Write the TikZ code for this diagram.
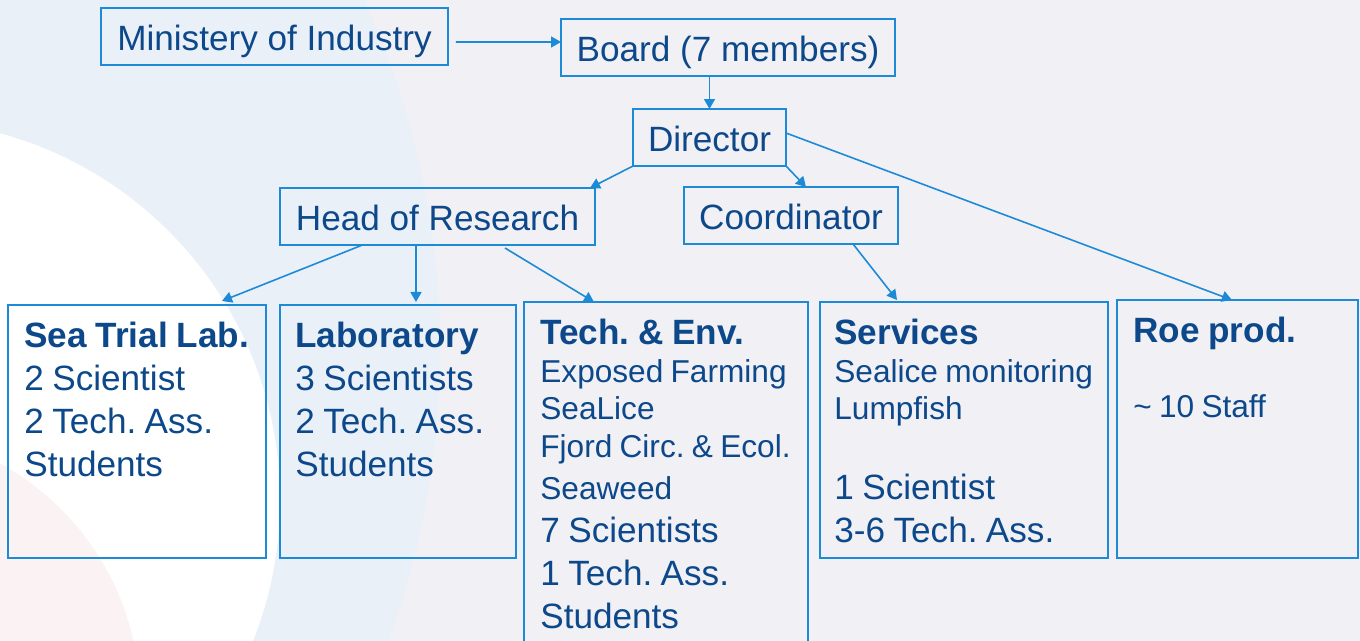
\documentclass[tikz,border=0pt]{standalone}
\usepackage{fontspec}
\setmainfont{Liberation Sans}
\usetikzlibrary{positioning, calc, arrows.meta}
\definecolor{boxblue}{RGB}{28,138,214}
\definecolor{txtblue}{RGB}{12,72,138}
\definecolor{bggray}{RGB}{240,240,245}
\definecolor{ringblue}{RGB}{233,240,248}
\definecolor{pinkish}{RGB}{251,242,244}
\tikzset{
  unit/.style={draw=boxblue, line width=1.1pt, outer sep=0pt, inner sep=0pt,
    text=txtblue, font=\fontsize{20}{24.4}\selectfont},
  top/.style={unit, minimum height=1.14cm, text height=0.6cm, text depth=0.04cm},
  txt/.style={anchor=north west, inner sep=0pt, text=txtblue, align=left,
    font=\fontsize{20}{24.4}\selectfont},
  link/.style={draw=boxblue, line width=0.9pt, -{Triangle[length=0.2cm,width=0.22cm]}}}
\newcommand\unithead[1]{{\fontsize{20}{24.4}\selectfont\bfseries\spaceskip=0.25em\relax #1\par}}
\newcommand\linebig[1]{{\fontsize{20}{24.4}\selectfont\spaceskip=0.24em\relax #1\par}}
\newcommand\linesmall[1]{{\fontsize{18}{21.3}\selectfont\spaceskip=0.23em\relax #1\par}}
\frenchspacing

\begin{document}
\begin{tikzpicture}[x=0.02cm, y=-0.02cm]
\useasboundingbox (0,0) rectangle (1360,641);
\clip (0,0) rectangle (1360,641);
% background
\fill[bggray] (0,0) rectangle (1360,641);
\fill[ringblue] (-400,350) circle (840);
\fill[white] (-100,500) circle (380);
\fill[pinkish] (-130,700) circle (270);

% top of the chart
\node[top, minimum width=6.94cm] (minis) at (274.5,36.5) {Ministery of Industry};
\node[top, minimum width=6.68cm] (board) at (728,47.5) {Board (7 members)};
\node[top, minimum width=3.06cm] (dir) at (709.5,137.5) {Director};
\node[top, minimum width=6.3cm] (head) at (437.5,216.5) {Head of Research};
\node[top, minimum width=4.28cm] (coord) at (791,215.5) {Coordinator};

% units
\node[unit, anchor=north west, minimum width=5.16cm, minimum height=5.06cm] (sea) at (8,305) {};
\node[unit, anchor=north west, minimum width=4.72cm, minimum height=5.06cm] (lab) at (280,305) {};
\node[unit, anchor=north west, minimum width=5.68cm, minimum height=7.2cm] (tech) at (524,302) {};
\node[unit, anchor=north west, minimum width=5.76cm, minimum height=5.12cm] (serv) at (820,302) {};
\node[unit, anchor=north west, minimum width=4.82cm, minimum height=5.16cm] (roe) at (1117,300) {};

\node[txt, text width=4.9cm] (seatxt) at ($(sea.north west)+(16,17)$) {\unithead{Sea Trial Lab.}\linebig{2 Scientist}\linebig{2 Tech. Ass.}\linebig{Students}};
\node[txt, text width=4.4cm] (labtxt) at ($(lab.north west)+(15,17)$) {\unithead{Laboratory}\linebig{3 Scientists}\linebig{2 Tech. Ass.}\linebig{Students}};
\node[txt, text width=5.4cm] (techtxt) at ($(tech.north west)+(16,17)$) {\unithead{Tech. \& Env.}\linesmall{Exposed Farming}\linesmall{SeaLice}\linesmall{Fjord Circ. \& Ecol.}{\fontsize{18}{24.4}\selectfont\spaceskip=0.23em\relax Seaweed\par}\linebig{7 Scientists}\linebig{1 Tech. Ass.}\linebig{Students}};
\node[txt, text width=5.5cm] (servtxt) at ($(serv.north west)+(14,17)$) {\unithead{Services}\linesmall{Sealice monitoring}\linesmall{Lumpfish}\linesmall{\mbox{}}\linebig{1 Scientist}\linebig{3-6 Tech. Ass.}};
\node[txt, text width=4.5cm] (roetxt) at ($(roe.north west)+(16,17)$) {\unithead{Roe prod.}\linesmall{\mbox{}}\linesmall{\textasciitilde{} 10 Staff}};

% arrows
\draw[link] ($(minis.east)+(8,5.5)$) -- ($(board.west)+(0,-5.5)$);
\draw[link] (dir.north |- board.south) -- (dir.north);
\draw[link] (dir.south west) -- ($(head.north east)+(-5,0)$);
\draw[link] (dir.south east) -- ($(coord.north)+(15,0)$);
\draw[link] ($(dir.east)+(0,-4.5)$) -- ($(roe.north)+(-5.5,0)$);
\draw[link] ($(head.south)+(-75,0)$) -- ($(sea.north east)+(-44,-4)$);
\draw[link] ($(head.south)+(-21.5,0)$) -- ($(lab.north)+(18,-3)$);
\draw[link] ($(head.south east)+(-90,3)$) -- ($(tech.north west)+(70,0)$);
\draw[link] ($(coord.south)+(62,0)$) -- ($(serv.north west)+(77,-2)$);
\end{tikzpicture}
\end{document}
